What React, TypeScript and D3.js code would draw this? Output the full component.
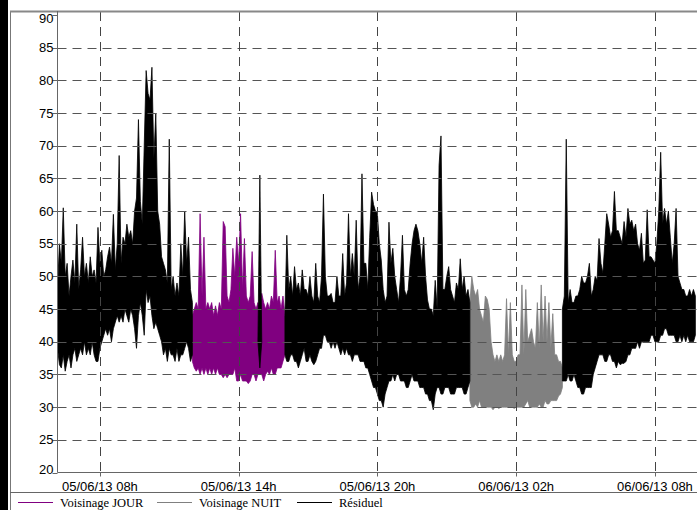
import React, { useEffect, useRef } from 'react';
import * as d3 from 'd3';

// 5-minute bins: max and min of the signal in each bin
const residuelMatinMax = [
  48, 55, 52, 60.5, 50, 52, 47, 50, 52.5, 49, 58, 48, 51, 56, 50, 52, 49, 53, 50, 51,
  49, 57.5, 52, 54, 50, 51, 53, 54.5, 52, 59.5, 51, 55, 68.5, 52, 56, 55, 58, 56, 57, 55,
  60, 62, 74, 61.5, 58, 70, 81.5, 78, 77, 82, 68, 75, 60, 58, 53, 52, 51, 49, 71, 48,
  50, 47, 49, 47, 55, 50, 60, 52, 56, 48, 46,
];
const residuelMatinMin = [
  39, 36.5, 36, 38, 35.5, 37, 38, 36, 38, 39, 37, 38, 39, 38, 40, 38, 39, 38, 40, 38,
  37, 37, 39, 40, 41, 42, 41, 42, 40, 42, 43, 44, 43, 44, 43, 45, 44, 43, 45, 44,
  42, 39, 44, 46, 44, 41, 48, 46, 47, 44, 42, 43, 42, 41, 40, 38, 39, 37, 39, 38,
  38, 37, 39, 37, 38, 38, 39, 40, 39, 37, 38,
];
const voisinageJourMax = [
  44, 45, 46, 45, 59.6, 47, 56, 45, 46, 45, 46, 44, 45.5, 44, 46, 45, 58.4, 57.6, 47, 46,
  48, 54.3, 50, 56, 52, 59.6, 48, 55.8, 47, 46, 47, 53.8, 46, 45, 46, 45, 47.4, 46, 45, 46,
  45, 47, 46, 54, 46, 47, 45, 47, 44,
];
const voisinageJourMin = [
  37, 36, 35.5, 36, 35, 36, 35, 36, 35, 36, 35, 36, 35, 36, 35, 35, 34.5, 35, 34.5, 35,
  35, 35, 36, 34, 34, 35, 34, 34, 34, 33.6, 34, 35, 35, 34, 35, 35, 35, 34, 35, 35.5,
  35, 36, 35, 35, 36, 36, 36, 37, 38,
];
const residuelPicMax = [40, 65.5, 40];
const residuelPicMin = [40, 36, 40];
const residuelSoirMax = [
  44, 56.3, 48, 50, 47, 51.5, 48, 49, 47, 51, 48, 48, 47, 50, 47, 46, 52, 47, 46, 50,
  62.6, 50, 47, 47, 47.4, 46, 46, 50, 47, 47, 53.5, 47, 49, 59.6, 50, 53.5, 50, 58.6, 48, 50,
  65.7, 52, 52, 48, 56, 62.9, 61, 60, 59.6, 55, 52.5, 48, 46, 47, 58.3, 52, 54.3, 50, 48, 46,
  50, 56.3, 48, 47, 48, 52, 55, 57, 58, 57, 55, 52, 56, 50, 46.4, 45, 45, 44, 49.4, 45,
  67, 71.5, 48, 48, 50, 51.5, 48, 47, 46, 49, 48, 52.7, 48, 50, 47, 48, 46,
];
const residuelSoirMin = [
  38, 37, 37, 38, 38, 37, 37, 36, 37, 38, 39, 37, 37, 38, 37, 36.5, 37, 38, 39, 39,
  41, 41, 40, 40, 39, 40, 39, 40, 39, 38, 39, 38, 39, 38, 38, 37, 38, 38, 38, 37,
  37, 37, 36, 36, 35, 34, 33, 33, 32, 31, 31, 30, 32, 33, 34, 34, 35, 34, 35, 35,
  34, 34, 34, 33, 33, 34, 35, 34, 34, 34, 33, 33, 33, 32, 32, 31, 31, 29.6, 32, 33,
  33, 32, 32, 33, 33, 33, 32, 32, 32, 33, 33, 33, 33, 32, 32, 33, 34,
];
const voisinageNuitMax = [
  46, 50, 48, 47, 48, 45, 44, 43, 47, 46.5, 45, 40, 38, 37, 38, 37, 38, 37, 38, 46.6,
  38, 46, 38, 37, 37, 38, 38, 48.7, 38, 48, 40, 41, 42, 40, 39, 46, 39, 48.7, 40, 47,
  40, 46, 39, 44.3, 38, 38, 37, 37, 36,
];
const voisinageNuitMin = [
  31, 30, 30, 30.5, 30, 31, 30, 30, 30, 30, 30, 30, 29.6, 30, 30, 29.8, 30, 30, 30, 30,
  30, 30, 30, 29.8, 30, 30, 30, 30, 30, 30.5, 31, 30, 30, 30, 30, 30, 30.5, 30, 30, 31,
  30.5, 30.5, 31, 31, 31, 31, 31.7, 32, 33,
];
const residuelFinMax = [
  45, 47, 71, 46, 48, 46, 46, 47, 47, 48, 50, 49, 49, 50, 52, 47, 48, 50, 49.4, 55.8,
  52, 50.5, 55, 59.6, 58, 56, 57, 63, 57, 57, 56, 55, 58.4, 56, 60.4, 58, 58.6, 57, 58, 55,
  54, 56.6, 52, 52.5, 60.2, 53, 53, 52.5, 52, 55, 60, 69, 58, 60.4, 58, 60, 56, 52, 55, 60.4,
  50, 49, 48, 48, 47, 47, 48, 47, 48, 47,
];
const residuelFinMin = [
  34, 34, 34, 35, 34, 34, 35, 34, 33, 33, 32, 32, 33, 33, 33, 33, 35, 36, 37, 38,
  38, 38, 37, 37, 38, 38, 37, 37, 36, 37, 36.5, 36.7, 36.7, 37, 38, 38, 39, 39, 39, 40,
  39, 40, 40, 40, 40, 40, 41, 41, 40, 40, 40, 41, 41, 42, 42, 41, 41, 41, 41, 40,
  40, 41, 40, 41, 40, 41, 40, 40, 40, 41,
];

const yTicks = d3.range(20, 91, 5);
const xTickTimes = [
  new Date(2013, 5, 5, 8), new Date(2013, 5, 5, 14), new Date(2013, 5, 5, 20),
  new Date(2013, 5, 6, 2), new Date(2013, 5, 6, 8),
];
const legendLabels = ['Voisinage JOUR', 'Voisinage NUIT', 'Résiduel'];
const legendColors = ['#800080', '#808080', '#000000'];

const segments = [
  { max: voisinageJourMax, min: voisinageJourMin, start: new Date(2013, 5, 5, 12, 0), color: '#800080' },
  { max: voisinageNuitMax, min: voisinageNuitMin, start: new Date(2013, 5, 6, 0, 0), color: '#808080' },
  { max: residuelMatinMax, min: residuelMatinMin, start: new Date(2013, 5, 5, 6, 10), color: '#000000' },
  { max: residuelPicMax, min: residuelPicMin, start: new Date(2013, 5, 5, 14, 50), color: '#000000' },
  { max: residuelSoirMax, min: residuelSoirMin, start: new Date(2013, 5, 5, 16, 0), color: '#000000' },
  { max: residuelFinMax, min: residuelFinMin, start: new Date(2013, 5, 6, 4, 0), color: '#000000' },
];

export default function App() {
  const svgRef = useRef(null);
  const width = 697;
  const height = 510;

  useEffect(() => {
    const svg = d3.select(svgRef.current);
    svg.selectAll('*').remove();

    const left = 57.5, top = 15, bottom = 472.5;
    const x = d3.scaleTime()
      .domain([new Date(2013, 5, 5, 6, 10), new Date(2013, 5, 6, 9, 50)])
      .range([left, left + 27.667 * 23.125]);
    const y = d3.scaleLinear().domain([20, 90]).range([bottom, top]);
    const sans = "'Liberation Sans', Arial, sans-serif";
    const serif = "'Liberation Serif', 'Times New Roman', serif";

    svg.append('rect').attr('width', width).attr('height', height).attr('fill', '#fff');
    svg.append('rect').attr('width', 8).attr('height', height).attr('fill', '#000');

    // series: band between min and max of each 5-minute bin
    segments.forEach(s => {
      const t0 = s.start.getTime();
      const tx = (i: number) => x(new Date(t0 + i * 5 * 60000));
      const rows = s.max.map((v, i) => ({ i, hi: v, lo: s.min[i] }));
      const area = d3.area<any>().x(d => tx(d.i)).y0(d => y(d.lo)).y1(d => y(d.hi));
      svg.append('path')
        .attr('d', area(rows))
        .attr('fill', s.color)
        .attr('stroke', s.color)
        .attr('stroke-width', 0.8)
        .attr('stroke-linejoin', 'miter');
    });

    // grid (drawn over data)
    svg.append('g').selectAll('line').data(yTicks.slice(1, -1)).enter().append('line')
      .attr('x1', left).attr('x2', width)
      .attr('y1', d => Math.round(y(d)) + 0.5).attr('y2', d => Math.round(y(d)) + 0.5)
      .attr('stroke', '#555').attr('stroke-dasharray', '9,6');
    svg.append('g').selectAll('line').data(xTickTimes).enter().append('line')
      .attr('x1', d => Math.round(x(d)) + 0.5).attr('x2', d => Math.round(x(d)) + 0.5)
      .attr('y1', 12).attr('y2', bottom)
      .attr('stroke', '#444').attr('stroke-dasharray', '9,6');

    // frame
    svg.append('line').attr('x1', 10.5).attr('x2', 10.5).attr('y1', 11).attr('y2', height).attr('stroke', '#777');
    svg.append('line').attr('x1', 10).attr('x2', width).attr('y1', 11.5).attr('y2', 11.5)
      .attr('stroke', '#888').attr('stroke-width', 2);
    svg.append('line').attr('x1', left).attr('x2', left).attr('y1', 11).attr('y2', bottom).attr('stroke', '#666');
    svg.append('line').attr('x1', left).attr('x2', width).attr('y1', bottom).attr('y2', bottom).attr('stroke', '#666');
    svg.append('line').attr('x1', 10).attr('x2', width).attr('y1', 492.5).attr('y2', 492.5).attr('stroke', '#666');

    // y axis
    const yg = svg.append('g');
    yg.selectAll('line').data(yTicks).enter().append('line')
      .attr('x1', left - 5).attr('x2', left)
      .attr('y1', d => Math.round(y(d)) + 0.5).attr('y2', d => Math.round(y(d)) + 0.5)
      .attr('stroke', '#666');
    yg.selectAll('text').data(yTicks).enter().append('text')
      .attr('x', left - 4)
      .attr('y', d => y(d) + (d === 90 ? 3 : d === 20 ? -3 : 0))
      .attr('dy', '0.35em')
      .attr('text-anchor', 'end')
      .attr('font-family', sans).attr('font-size', 13)
      .attr('fill', '#000')
      .text(d => d);

    // x axis
    const fmt = d3.timeFormat('%d/%m/%y %Hh');
    const xg = svg.append('g');
    xg.selectAll('line').data(xTickTimes).enter().append('line')
      .attr('x1', d => Math.round(x(d)) + 0.5).attr('x2', d => Math.round(x(d)) + 0.5)
      .attr('y1', bottom).attr('y2', bottom + 4)
      .attr('stroke', '#666');
    xg.selectAll('text').data(xTickTimes).enter().append('text')
      .attr('x', d => x(d))
      .attr('y', 491)
      .attr('text-anchor', 'middle')
      .attr('font-family', sans).attr('font-size', 13)
      .attr('fill', '#000')
      .text(d => fmt(d));

    // legend
    const legX = [18, 157, 297];
    const lg = svg.append('g');
    legendLabels.forEach((lab, i) => {
      lg.append('line')
        .attr('x1', legX[i]).attr('x2', legX[i] + 35)
        .attr('y1', 502.5).attr('y2', 502.5)
        .attr('stroke', legendColors[i]);
      lg.append('text')
        .attr('x', legX[i] + 42).attr('y', 507)
        .attr('font-family', serif).attr('font-size', 12.5)
        .attr('fill', '#000')
        .text(lab);
    });
  }, []);

  return (
    <svg ref={svgRef} width={width} height={height}
      style={{ position: 'absolute', left: 0, top: 0, display: 'block' }} />
  );
}
